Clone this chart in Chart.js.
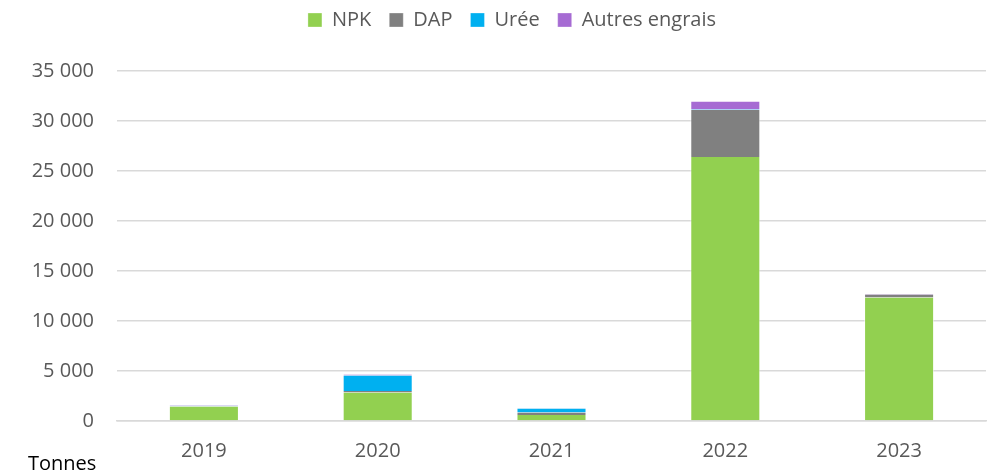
<!DOCTYPE html>
<html>
<head>
<meta charset="utf-8">
<script src="https://cdn.jsdelivr.net/npm/chart.js@4"></script>
<style>
  body { margin: 0; background: #fff; }
  #wrap { width: 990px; height: 476px; }
</style>
</head>
<body>
<div id="wrap"><canvas id="graficoEngrais" width="990" height="476"></canvas></div>
<script>
const annees = ["2019", "2020", "2021", "2022", "2023"];
const npk = [1450, 2850, 600, 26400, 12350];
const dap = [20, 150, 260, 4700, 300];
const uree = [60, 1550, 380, 60, 0];
const autres = [40, 100, 40, 800, 60];
const graduations = [0, 5000, 10000, 15000, 20000, 25000, 30000, 35000];

const police = "'Open Sans', 'Noto Sans', sans-serif";

const canvas = document.getElementById("graficoEngrais").getContext("2d");

function serie(label, data, couleur) {
  return {
    label: label,
    data: data,
    backgroundColor: couleur,
    borderColor: "rgba(255,255,255,0.6)",
    borderWidth: { left: 1, right: 1, top: 0, bottom: 0 },
    borderSkipped: false,
    barPercentage: 0.403,
    categoryPercentage: 1,
  };
}

// la legende doit laisser un grand blanc au-dessus du graphique
const espaceLegende = {
  id: "espaceLegende",
  beforeInit(chart) {
    const fitOrig = chart.legend.fit;
    chart.legend.fit = function () {
      fitOrig.bind(chart.legend)();
      this.height = 71;
    };
    const drawOrig = chart.legend.draw;
    chart.legend.draw = function () {
      const ctx = chart.ctx;
      ctx.save();
      ctx.translate(5, -8);
      drawOrig.bind(chart.legend)();
      ctx.restore();
    };
  },
};

const dados = {
  labels: annees,
  datasets: [
    serie("NPK", npk, "#92D050"),
    serie("DAP", dap, "#808080"),
    serie("Urée", uree, "#00B0F0"),
    serie("Autres engrais", autres, "#A66BD3"),
  ],
};

const tabela = new Chart(canvas, {
  type: "bar",
  data: dados,
  plugins: [espaceLegende],
  options: {
    responsive: false,
    animation: false,
    layout: { padding: { left: 28, right: 4, top: 0, bottom: -5 } },
    plugins: {
      legend: {
        position: "top",
        labels: {
          boxWidth: 14,
          boxHeight: 14,
          padding: 18,
          color: "#595959",
          font: { family: police, size: 20 },
        },
      },
      title: {
        display: true,
        position: "bottom",
        align: "start",
        text: "Tonnes",
        color: "#000",
        font: { family: police, size: 20, weight: "normal" },
        padding: { top: -29, bottom: 0 },
      },
      tooltip: { enabled: false },
    },
    scales: {
      x: {
        stacked: true,
        grid: { display: false, drawTicks: false },
        border: { color: "#D9D9D9", width: 1.5 },
        ticks: { color: "#595959", font: { family: police, size: 20 }, padding: 18 },
      },
      y: {
        stacked: true,
        min: 0,
        max: 35000,
        afterBuildTicks: (axe) => {
          axe.ticks = graduations.map((v) => ({ value: v }));
        },
        afterFit: (axe) => {
          axe.width = 89;
        },
        grid: { color: "#D9D9D9", lineWidth: 1.5, drawTicks: false },
        border: { display: false },
        ticks: {
          color: "#595959",
          font: { family: police, size: 20 },
          padding: 23,
          callback: (v) => v.toLocaleString("fr-FR").replace(/\s/g, " "),
        },
      },
    },
  },
});
</script>
</body>
</html>
